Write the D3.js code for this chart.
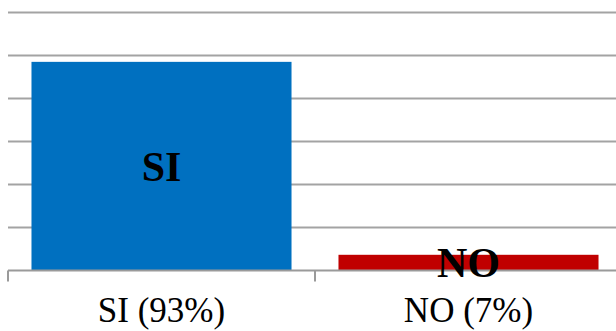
<!DOCTYPE html>
<html>
<head>
<meta charset="utf-8">
<script src="https://cdn.jsdelivr.net/npm/d3@7"></script>
<style>
  html, body { margin: 0; padding: 0; background: #fff; }
  svg { display: block; }
</style>
</head>
<body>
<svg id="chart" width="616" height="331"></svg>
<script>
// Survey answers: share of respondents (%)
const categories = ["SI", "NO"];
const values = [93, 7];
const axisLabels = ["SI (93%)", "NO (7%)"];
const barColors = ["#0070C0", "#C00000"];

const width = 616, height = 331;
const plot = { left: 8, right: 622, top: 12.5, bottom: 270.5 };
const yMax = 115;          // top of value axis
const gridCount = 6;       // horizontal gridline intervals

const svg = d3.select("#chart");

const x = d3.scaleBand()
  .domain(categories)
  .range([plot.left, plot.right])
  .paddingInner(0.153)
  .paddingOuter(0.0765);

const y = d3.scaleLinear()
  .domain([0, yMax])
  .range([plot.bottom, plot.top]);

// Horizontal gridlines
const gridValues = d3.range(1, gridCount + 1).map(i => i * yMax / gridCount);
svg.append("g")
  .selectAll("line")
  .data(gridValues)
  .join("line")
  .attr("x1", plot.left)
  .attr("x2", plot.right)
  .attr("y1", d => y(d))
  .attr("y2", d => y(d))
  .attr("stroke", "#a3a3a3")
  .attr("stroke-width", 2);

// Bars
svg.append("g")
  .selectAll("rect")
  .data(categories)
  .join("rect")
  .attr("x", d => x(d))
  .attr("width", x.bandwidth())
  .attr("y", (d, i) => y(values[i]))
  .attr("height", (d, i) => y(0) - y(values[i]))
  .attr("fill", (d, i) => barColors[i]);

// Category axis with ticks between categories
const step = x.step();
const x0 = plot.left;
const axis = svg.append("g");
axis.append("line")
  .attr("x1", plot.left).attr("x2", plot.right)
  .attr("y1", y(0)).attr("y2", y(0))
  .attr("stroke", "#9a9a9a").attr("stroke-width", 2);
axis.selectAll("line.tick")
  .data(d3.range(categories.length + 1))
  .join("line")
  .attr("class", "tick")
  .attr("x1", i => x0 + i * step)
  .attr("x2", i => x0 + i * step)
  .attr("y1", y(0))
  .attr("y2", y(0) + 11)
  .attr("stroke", "#9a9a9a").attr("stroke-width", 2);

// Category labels
axis.selectAll("text")
  .data(categories)
  .join("text")
  .attr("x", d => x(d) + x.bandwidth() / 2)
  .attr("y", 322)
  .attr("text-anchor", "middle")
  .attr("font-family", "'Liberation Serif', 'Times New Roman', serif")
  .attr("font-size", 35)
  .attr("fill", "#000")
  .text((d, i) => axisLabels[i]);

// Data labels centred in each bar
svg.append("g")
  .selectAll("text")
  .data(categories)
  .join("text")
  .attr("x", d => x(d) + x.bandwidth() / 2)
  .attr("y", (d, i) => (y(values[i]) + y(0)) / 2)
  .attr("dy", "0.35em")
  .attr("text-anchor", "middle")
  .attr("font-family", "'Liberation Serif', 'Times New Roman', serif")
  .attr("font-weight", "bold")
  .attr("font-size", 42)
  .attr("fill", "#000")
  .text(d => d);
</script>
</body>
</html>
